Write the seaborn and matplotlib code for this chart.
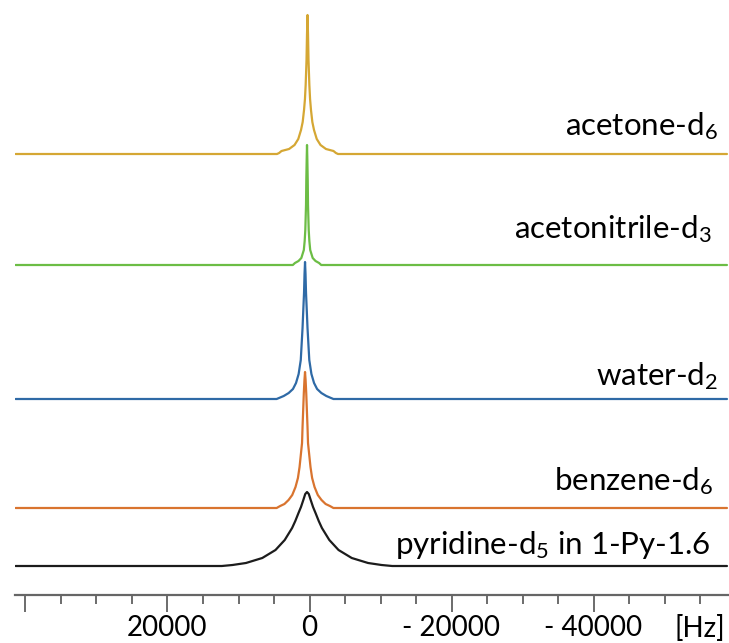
import numpy as np
import pandas as pd
import matplotlib
matplotlib.use("Agg")
import matplotlib.pyplot as plt
import seaborn as sns
from matplotlib.ticker import FixedLocator, MultipleLocator

# Spectra: frequency offset (Hz) and signal height above each baseline (a.u.)
acetone_hz = [41400, 4580, 4280, 3940, 2880, 2110, 1580, 1195, 960, 770, 640, 540, 420, 350, 280,
              210, 140, 20, -80, -210, -400, -635, -1020, -1550, -2320, -3380, -3720, -4020, -58800]
acetone_int = [0, 0, 1, 3, 5, 9, 15, 24, 32, 44, 55, 69, 94, 120, 139,
               120, 94, 69, 55, 44, 32, 24, 15, 9, 5, 3, 1, 0, 0]

acetonitrile_hz = [41400, 2350, 2050, 1550, 1150, 800, 680, 590, 490, 450, 390, 350,
                   310, 250, 210, 110, 20, -100, -450, -850, -1350, -1650, -58800]
acetonitrile_int = [0, 0, 2, 4, 7, 15, 24, 35, 60, 85, 108, 120,
                    108, 85, 60, 35, 24, 15, 7, 4, 2, 0, 0]

water_hz = [41400, 4630, 3630, 2930, 2330, 1900, 1530, 1230, 980, 880, 770, 700, 630,
            560, 490, 380, 280, 30, -270, -640, -1070, -1670, -2370, -3370, -58800]
water_int = [0, 0, 3, 6, 10, 16, 25, 39, 71, 88, 106, 125, 137,
             125, 106, 88, 71, 39, 25, 16, 10, 6, 3, 0, 0]

benzene_hz = [41400, 4630, 4130, 3530, 2950, 2430, 1970, 1630, 1400, 1050, 980, 800, 710, 630,
              550, 460, 280, 210, -140, -370, -710, -1170, -1690, -2270, -2870, -3370, -58800]
benzene_int = [0, 0, 2, 4, 8, 13, 21, 30, 41, 65, 81, 115, 128, 136,
               128, 115, 81, 65, 41, 30, 21, 13, 8, 4, 2, 0, 0]

pyridine_hz = [41400, 12350, 10850, 8950, 6650, 4790, 3490, 2450, 2000, 1550, 1200, 870, 600, 350,
               100, -170, -500, -850, -1300, -1750, -2790, -4090, -5950, -8250, -10150, -11650, -58800]
pyridine_int = [0, 0, 1, 3, 8, 16, 26, 38, 45, 53, 59, 66, 72, 74,
                72, 66, 59, 53, 45, 38, 26, 16, 8, 3, 1, 0, 0]

labels = ["acetone-d$_6$", "acetonitrile-d$_3$", "water-d$_2$", "benzene-d$_6$",
          "pyridine-d$_5$ in 1-Py-1.6"]

tick_values = [40000, 20000, 0, -20000, -40000]
tick_labels = ["", "20000", "0", "- 20000", "- 40000"]

# Layout (vertical stacking offsets in axis units, colours, label anchors in pixels)
offsets = [441, 330, 196, 87, 29]
colors = ["#d5a734", "#6cbd45", "#2f6aa6", "#d9742f", "#1c1c1c"]
label_xy = [(718, 135), (712, 238), (718, 385), (713, 490), (711, 554)]

sns.set_style("white")
plt.rcParams["font.family"] = ["Lato", "DejaVu Sans"]
plt.rcParams["mathtext.default"] = "regular"

W, H = 729, 643
fig = plt.figure(figsize=(W / 100, H / 100), dpi=100)
ax_left, ax_right, ax_bottom = 15, 729, 595
ax = fig.add_axes([ax_left / W, (H - ax_bottom) / H, (ax_right - ax_left) / W, ax_bottom / H])

series = [(acetone_hz, acetone_int), (acetonitrile_hz, acetonitrile_int),
          (water_hz, water_int), (benzene_hz, benzene_int), (pyridine_hz, pyridine_int)]

frames = []
for name, (hz, inten), off in zip(labels, series, offsets):
    frames.append(pd.DataFrame({"Hz": hz, "y": np.asarray(inten, float) + off, "trace": name}))
df = pd.concat(frames, ignore_index=True)

sns.lineplot(data=df, x="Hz", y="y", hue="trace", palette=dict(zip(labels, colors)),
             sort=False, estimator=None, linewidth=1.6, legend=False, ax=ax)

zero_px = 309.5
px_per_hz = 35.5 / 5000
ax.set_xlim((zero_px - ax_left) / px_per_hz, (zero_px - ax_right) / px_per_hz)
ax.set_ylim(0, ax_bottom)

for side in ["top", "left", "right"]:
    ax.spines[side].set_visible(False)
ax.spines["bottom"].set_color("#666666")
ax.spines["bottom"].set_linewidth(1.6)

ax.xaxis.set_major_locator(FixedLocator(tick_values))
ax.set_xticklabels(tick_labels)
ax.xaxis.set_minor_locator(MultipleLocator(5000))
ax.tick_params(axis="x", which="major", direction="out", length=12, width=1.1,
               color="#444444", labelsize=20, pad=2.5, labelcolor="black", bottom=True)
ax.tick_params(axis="x", which="minor", direction="out", length=6.5, width=1.1,
               color="#444444", bottom=True)
ax.set_yticks([])
ax.set_xlabel("")
ax.set_ylabel("")

for text, (x, y) in zip(labels, label_xy):
    fig.text(x / W, 1 - y / H, text, ha="right", va="baseline", fontsize=22.5, color="black")

fig.text(725 / W, 1 - 637 / H, "[Hz]", ha="right", va="baseline", fontsize=20, color="black")

fig.savefig("out.png", dpi=100)
